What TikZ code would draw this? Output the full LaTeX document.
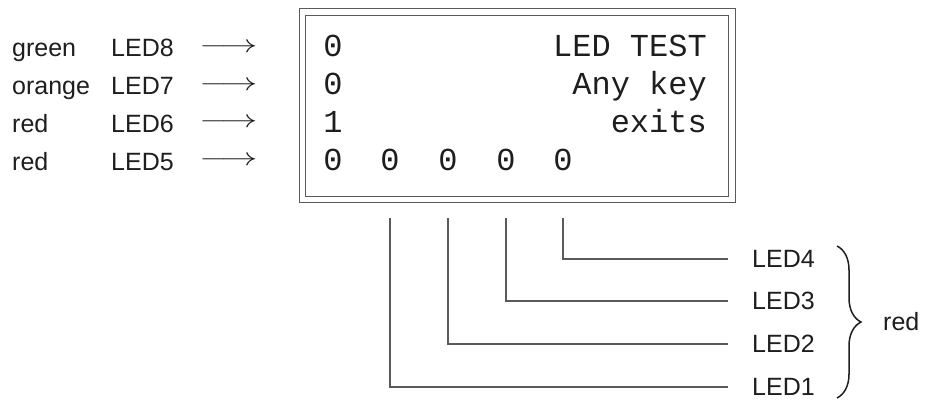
\documentclass[tikz,border=0pt]{standalone}
\usepackage{fontspec}
\setmainfont{Liberation Sans}
\setmonofont{Liberation Mono}
\usetikzlibrary{positioning,decorations.pathreplacing}
\definecolor{lcdline}{RGB}{90,90,90}
\definecolor{inkgray}{RGB}{30,30,30}

\begin{document}
\begin{tikzpicture}[x=1pt,y=1pt,
    ledlabel/.style={anchor=west,inner sep=0pt,text=inkgray,font=\fontsize{25}{30}\selectfont},
    lcdtext/.style={inner sep=0pt,text=inkgray,font=\ttfamily\fontsize{32}{36}\selectfont},
    lcd/.style={draw=lcdline,line width=1.2pt,double=white,double distance=5.3pt,minimum width=429.5pt,minimum height=187.5pt},
    wire/.style={draw=lcdline,line width=1.2pt}]
    \useasboundingbox (0,0) rectangle (931,-401);

    % LED colours and names on the left
    \node[ledlabel,anchor=base west] (c8) at (12,-57) {green};
    \node[ledlabel,anchor=base west] (c7) at (12,-95) {orange};
    \node[ledlabel,anchor=base west] (c6) at (12,-132) {red};
    \node[ledlabel,anchor=base west] (c5) at (12,-170) {red};
    \node[ledlabel,anchor=base west] (led8) at (111,-57) {LED8};
    \node[ledlabel,anchor=base west] (led7) at (111,-95) {LED7};
    \node[ledlabel,anchor=base west] (led6) at (111,-132) {LED6};
    \node[ledlabel,anchor=base west] (led5) at (111,-170) {LED5};
    \node[ledlabel,anchor=center] (a8) at (228.5,-48) {\scalebox{1.45}[1]{$\longrightarrow$}};
    \node[ledlabel,anchor=center] (a7) at (228.5,-86) {\scalebox{1.45}[1]{$\longrightarrow$}};
    \node[ledlabel,anchor=center] (a6) at (228.5,-123) {\scalebox{1.45}[1]{$\longrightarrow$}};
    \node[ledlabel,anchor=center] (a5) at (228.5,-161) {\scalebox{1.45}[1]{$\longrightarrow$}};

    % display
    \node[lcd] (lcd) at (517.25,-105.75) {};
    \node[lcdtext,anchor=base] (d8) at (333,-57) {0};
    \node[lcdtext,anchor=base] (d7) at (333,-95) {0};
    \node[lcdtext,anchor=base] (d6) at (333,-132) {1};
    \node[lcdtext,anchor=base east] (msg1) at (707,-57) {LED TEST};
    \node[lcdtext,anchor=base east] (msg2) at (707,-95) {Any key};
    \node[lcdtext,anchor=base east] (msg3) at (707,-132) {exits};
    \foreach \i/\x in {1/333,2/390,3/448,4/506,5/563}
        \node[lcdtext,anchor=base] (z\i) at (\x,-170) {0};

    % red LEDs underneath
    \node[ledlabel] (led4) at (752,-259) {LED4};
    \node[ledlabel] (led3) at (752,-301) {LED3};
    \node[ledlabel] (led2) at (752,-344) {LED2};
    \node[ledlabel] (led1) at (752,-387) {LED1};
    \coordinate (w2) at (z2 |- 0,-218);
    \coordinate (w3) at (z3 |- 0,-218);
    \coordinate (w4) at (z4 |- 0,-218);
    \coordinate (w5) at (z5 |- 0,-218);
    \draw[wire] (w2) |- ([xshift=-24pt]led1.west);
    \draw[wire] (w3) |- ([xshift=-24pt]led2.west);
    \draw[wire] (w4) |- ([xshift=-24pt]led3.west);
    \draw[wire] (w5) |- ([xshift=-24pt]led4.west);

    \draw[inkgray,line width=1.5pt,decorate,decoration={brace,amplitude=24pt}] (837,-246) -- (837,-398);
    \coordinate (bracetip) at (861,-322);
    \node[ledlabel,right=22pt of bracetip] (redall) {red};
\end{tikzpicture}
\end{document}
